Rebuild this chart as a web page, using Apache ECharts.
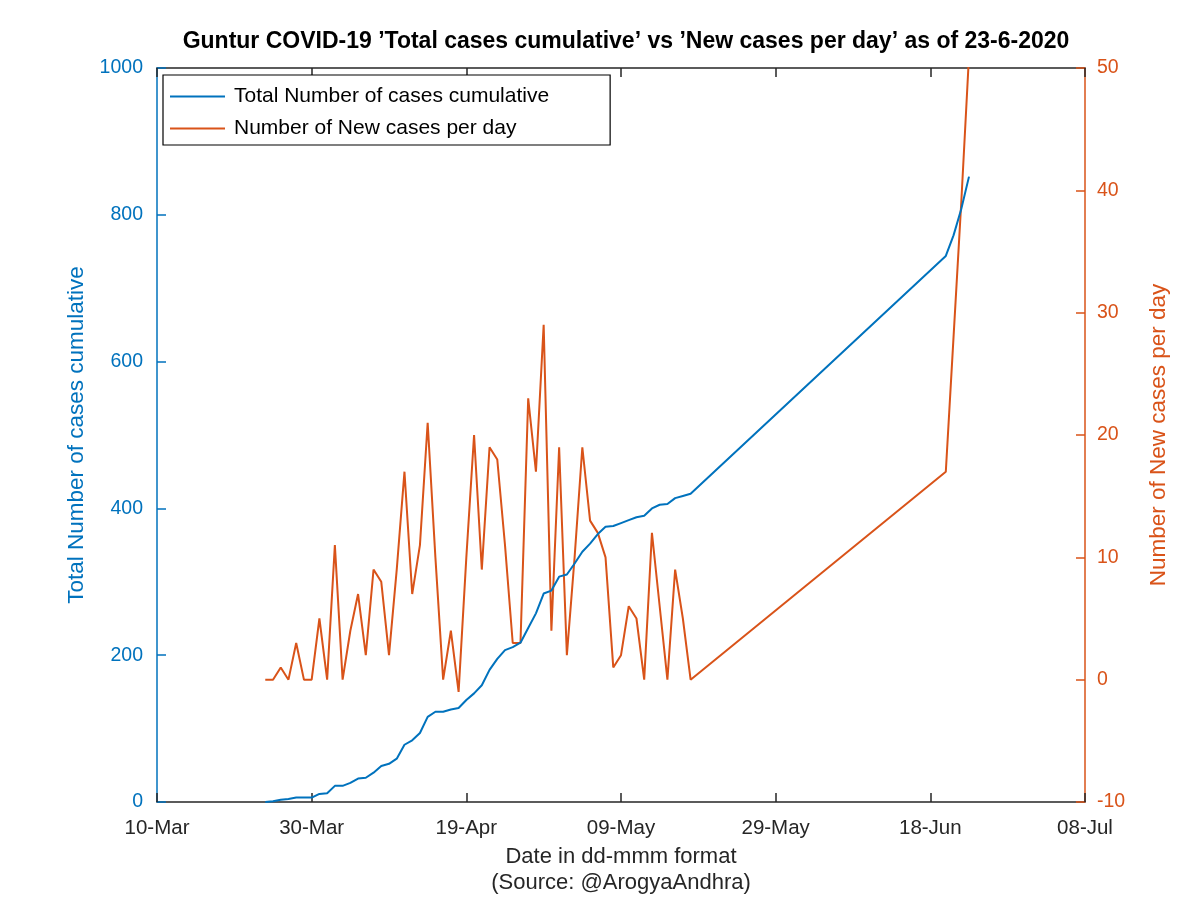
<!DOCTYPE html>
<html>
<head>
<meta charset="utf-8">
<script src="https://cdn.jsdelivr.net/npm/echarts@6/dist/echarts.min.js"></script>
<style>html,body{margin:0;padding:0;background:#fff}#c{width:1200px;height:898px}</style>
</head>
<body>
<div id="c"></div>
<script>
const dates = [
 '2020-03-24','2020-03-25','2020-03-26','2020-03-27','2020-03-28','2020-03-29','2020-03-30','2020-03-31',
 '2020-04-01','2020-04-02','2020-04-03','2020-04-04','2020-04-05','2020-04-06','2020-04-07','2020-04-08','2020-04-09','2020-04-10',
 '2020-04-11','2020-04-12','2020-04-13','2020-04-14','2020-04-15','2020-04-16','2020-04-17','2020-04-18','2020-04-19','2020-04-20',
 '2020-04-21','2020-04-22','2020-04-23','2020-04-24','2020-04-25','2020-04-26','2020-04-27','2020-04-28','2020-04-29','2020-04-30',
 '2020-05-01','2020-05-02','2020-05-03','2020-05-04','2020-05-05','2020-05-06','2020-05-07','2020-05-08','2020-05-09','2020-05-10',
 '2020-05-11','2020-05-12','2020-05-13','2020-05-14','2020-05-15','2020-05-16','2020-05-17','2020-05-18',
 '2020-06-20','2020-06-21','2020-06-22','2020-06-23'
];
const totalCases = [
 0,1,3,4,6,6,6,11,
 12,22,22,26,32,33,40,49,52,59,
 78,84,94,116,123,123,126,128,139,148,
 159,180,195,207,211,217,237,257,284,288,
 307,310,325,341,352,365,375,376,380,384,
 388,390,400,405,406,414,417,420,
 744,772,808,852
];
const newCases = [
 0,0,1,0,3,0,0,5,
 0,11,0,4,7,2,9,8,2,9,
 17,7,11,21,10,0,4,-1,10,20,
 9,19,18,11,3,3,23,17,29,4,
 19,2,10,19,13,12,10,1,2,6,
 5,0,12,6,0,9,5,0,
 17,28,39,51
];
const xTickLabels = ['10-Mar','30-Mar','19-Apr','09-May','29-May','18-Jun','08-Jul'];
const xStartDate = '2020-03-10';

function dayIndex(s){
  const p = s.split('-').map(Number), q = xStartDate.split('-').map(Number);
  return (Date.UTC(p[0],p[1]-1,p[2]) - Date.UTC(q[0],q[1]-1,q[2]))/86400000;
}
const totalData = dates.map((d,i)=>[dayIndex(d), totalCases[i]]);
const newData = dates.map((d,i)=>[dayIndex(d), newCases[i]]);

const BLUE = '#0072BD', ORANGE = '#D95319', DARK = '#262626';
const FONT = 'Liberation Sans';
const chart = echarts.init(document.getElementById('c'), null, {renderer:'canvas'});
chart.setOption({
  animation:false,
  backgroundColor:'#fff',
  textStyle:{fontFamily:FONT},
  title:{
    text:'Guntur COVID-19 \u2019Total cases cumulative\u2019 vs \u2019New cases per day\u2019 as of 23-6-2020',
    left:621, top:25, textAlign:'center',
    textStyle:{fontFamily:FONT, fontWeight:'bold', fontSize:23, color:'#000'}
  },
  legend:{
    orient:'vertical', left:163, top:75,
    backgroundColor:'#fff',
    borderColor:'#000', borderWidth:1.2, borderRadius:0,
    padding:[11,61,6,7], itemGap:11,
    itemWidth:55, itemHeight:2, icon:'rect',
    textStyle:{fontFamily:FONT, fontSize:21, color:'#000', padding:[0,0,0,4]},
    data:['Total Number of cases cumulative','Number of New cases per day']
  },
  grid:{left:157, right:115, top:68, bottom:96, containLabel:false, outerBoundsMode:'none'},
  xAxis:[{
    type:'value', min:0, max:120, interval:20, position:'bottom',
    axisLine:{show:true, onZero:false, lineStyle:{color:DARK, width:1.5}},
    axisTick:{show:true, inside:true, length:9, lineStyle:{color:DARK, width:1.5}},
    splitLine:{show:false},
    axisLabel:{fontFamily:FONT, fontSize:20.5, color:DARK, margin:16,
      formatter:v=>xTickLabels[Math.round(v/20)]},
    name:'Date in dd-mmm format\n(Source: @ArogyaAndhra)', nameLocation:'middle', nameGap:42,
    nameTextStyle:{fontFamily:FONT, fontSize:22, color:DARK, lineHeight:26, verticalAlign:'top'}
  },{
    type:'value', min:0, max:120, interval:20, position:'top',
    axisLine:{show:true, onZero:false, lineStyle:{color:DARK, width:1.5}},
    axisTick:{show:true, inside:true, length:9, lineStyle:{color:DARK, width:1.5}},
    splitLine:{show:false}, axisLabel:{show:false}
  }],
  yAxis:[{
    type:'value', min:0, max:1000, interval:200, position:'left',
    axisLine:{show:true, onZero:false, lineStyle:{color:BLUE, width:1.5}},
    axisTick:{show:true, inside:true, length:9, lineStyle:{color:BLUE, width:1.5}},
    splitLine:{show:false},
    axisLabel:{fontFamily:FONT, fontSize:19.5, color:BLUE, margin:14, formatter:v=>String(v)},
    name:'Total Number of cases cumulative', nameLocation:'middle', nameGap:66, nameRotate:90,
    nameTextStyle:{fontFamily:FONT, fontSize:22.5, color:BLUE}
  },{
    type:'value', min:-10, max:50, interval:10, position:'right',
    axisLine:{show:true, onZero:false, lineStyle:{color:ORANGE, width:1.5}},
    axisTick:{show:true, inside:true, length:9, lineStyle:{color:ORANGE, width:1.5}},
    splitLine:{show:false},
    axisLabel:{fontFamily:FONT, fontSize:19.5, color:ORANGE, margin:12, formatter:v=>String(v)},
    name:'Number of New cases per day', nameLocation:'middle', nameGap:62, nameRotate:90,
    nameTextStyle:{fontFamily:FONT, fontSize:22.5, color:ORANGE}
  }],
  series:[{
    name:'Total Number of cases cumulative', type:'line', xAxisIndex:0, yAxisIndex:0,
    data:totalData, showSymbol:false, symbol:'none', clip:true,
    lineStyle:{color:BLUE, width:2}, itemStyle:{color:BLUE}, z:3
  },{
    name:'Number of New cases per day', type:'line', xAxisIndex:0, yAxisIndex:1,
    data:newData, showSymbol:false, symbol:'none', clip:true,
    lineStyle:{color:ORANGE, width:2}, itemStyle:{color:ORANGE}, z:2
  }]
});
</script>
</body>
</html>
